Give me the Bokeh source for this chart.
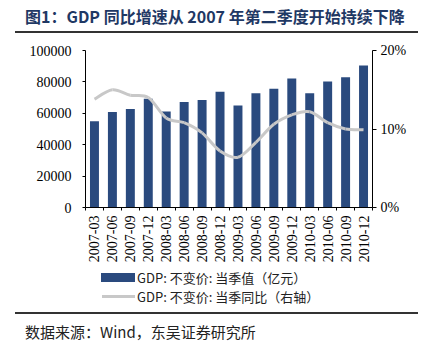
from bokeh.plotting import figure
from bokeh.models import (Range1d, LinearAxis, FixedTicker, PrintfTickFormatter, BasicTickFormatter,
                          CustomJSTickFormatter, Div)
from bokeh.layouts import column
from bokeh.embed import file_html
from bokeh.resources import INLINE
import math

title_text = "图1：GDP 同比增速从 2007 年第二季度开始持续下降"
source_text = "数据来源：Wind，东吴证券研究所"
quarters = ["2007-03", "2007-06", "2007-09", "2007-12", "2008-03", "2008-06", "2008-09", "2008-12",
            "2009-03", "2009-06", "2009-09", "2009-12", "2010-03", "2010-06", "2010-09", "2010-12"]
gdp_value = [55000, 60800, 62700, 69300, 61200, 67200, 68400, 73700,
             65000, 72700, 75600, 82200, 72700, 80300, 83000, 90500]
gdp_yoy = [13.8, 15.0, 14.3, 14.0, 11.4, 10.8, 9.5, 7.2,
           6.4, 8.3, 10.6, 11.8, 12.2, 10.8, 10.0, 9.9]
left_ticks = [0, 20000, 40000, 60000, 80000, 100000]
right_ticks = [0, 10, 20]
legend_labels = ["GDP: 不变价: 当季值（亿元）", "GDP: 不变价: 当季同比（右轴）"]

BAR = "#2a4a7e"
LINE = "#c8c8c8"
SERIF = "Liberation Serif"
CJK = "Noto Sans CJK SC"

n = len(quarters)
xs = [i + 0.5 for i in range(n)]

p = figure(width=428, height=229, x_range=Range1d(0, n), y_range=Range1d(0, 100000),
           output_backend="svg", toolbar_location=None, x_axis_location=None, y_axis_location=None,
           min_border_left=85, min_border_right=56, min_border_top=14, min_border_bottom=58,
           margin=0)
p.outline_line_color = None
p.xgrid.visible = False
p.ygrid.visible = False
p.extra_y_ranges = {"pct": Range1d(0, 20)}

bars = p.vbar(x=xs, top=gdp_value, width=0.5, fill_color=BAR, line_color=None)

# smooth line through yoy values (cubic bezier segments passing through each data point)
x0s, y0s, x1s, y1s, cx0s, cy0s, cx1s, cy1s = [], [], [], [], [], [], [], []
for i in range(n - 1):
    xa, ya = (xs[i - 1], gdp_yoy[i - 1]) if i > 0 else (xs[i], gdp_yoy[i])
    xb, yb = xs[i], gdp_yoy[i]
    xc, yc = xs[i + 1], gdp_yoy[i + 1]
    xd, yd = (xs[i + 2], gdp_yoy[i + 2]) if i + 2 < n else (xc, yc)
    x0s.append(xb); y0s.append(yb); x1s.append(xc); y1s.append(yc)
    cx0s.append(xb + (xc - xa) / 6); cy0s.append(yb + (yc - ya) / 6)
    cx1s.append(xc - (xd - xb) / 6); cy1s.append(yc - (yd - yb) / 6)
curve = p.bezier(x0=x0s, y0=y0s, x1=x1s, y1=y1s, cx0=cx0s, cy0=cy0s, cx1=cx1s, cy1=cy1s,
                 line_color=LINE, line_width=3, y_range_name="pct")

# axes
xaxis = LinearAxis(ticker=FixedTicker(ticks=xs, minor_ticks=list(range(n + 1))),
                   formatter=CustomJSTickFormatter(args=dict(labels=quarters),
                                                   code="return labels[Math.floor(tick)]"))
xaxis.major_label_orientation = math.pi / 2
xaxis.major_tick_out = 0
xaxis.major_tick_in = 0
xaxis.minor_tick_out = 3
xaxis.minor_tick_in = 0
xaxis.major_label_standoff = 5
p.add_layout(xaxis, "below")

yaxis = LinearAxis(ticker=FixedTicker(ticks=left_ticks, minor_ticks=[]),
                   formatter=BasicTickFormatter(use_scientific=False))
yaxis.major_tick_out = 3
yaxis.major_tick_in = 0
yaxis.major_label_standoff = 11
p.add_layout(yaxis, "left")

raxis = LinearAxis(y_range_name="pct", ticker=FixedTicker(ticks=right_ticks, minor_ticks=[]),
                   formatter=PrintfTickFormatter(format="%d%%"))
raxis.major_tick_out = 4
raxis.major_tick_in = 0
raxis.major_label_standoff = 4
p.add_layout(raxis, "right")

for ax in (xaxis, yaxis, raxis):
    ax.axis_line_color = "#000000"
    ax.major_tick_line_color = "#000000"
    ax.minor_tick_line_color = "#000000"
    ax.major_label_text_font = SERIF
    ax.major_label_text_font_size = "14px"
    ax.major_label_text_color = "#000000"

title_div = Div(width=428, height=36, margin=0, text=(
    '<div style="margin-left:15px;width:403px;height:33px;border-bottom:2px solid #333;">'
    '<div style="padding-left:10px;padding-top:7px;line-height:18px;white-space:nowrap;'
    'font-family:\'Noto Sans CJK SC\';font-weight:bold;font-size:16px;color:#1f3864;">'
    + title_text + '</div></div>'))

row_style = 'height:19px;display:flex;align-items:center;padding-left:101px;white-space:nowrap;'
text_style = 'font-family:\'Noto Sans CJK SC\';font-size:13px;color:#222222;line-height:19px;'
legend_div = Div(width=428, height=47, margin=0, text=(
    '<div style="padding-top:3px;">'
    '<div style="' + row_style + '">'
    '<span style="display:inline-block;width:34px;height:9px;background:' + BAR + ';margin-right:2px;"></span>'
    '<span style="' + text_style + '">' + legend_labels[0] + '</span></div>'
    '<div style="' + row_style + '">'
    '<span style="display:inline-block;width:33px;height:3px;background:' + LINE + ';margin-left:1px;margin-right:2px;"></span>'
    '<span style="' + text_style + '">' + legend_labels[1] + '</span></div>'
    '</div>'))

source_div = Div(width=428, height=39, margin=0, text=(
    '<div style="margin-left:15px;width:403px;border-top:2px solid #333;">'
    '<div style="padding-left:10px;padding-top:9px;line-height:18px;white-space:nowrap;'
    'font-family:\'Noto Sans CJK SC\';font-size:15px;color:#222222;">'
    + source_text + '</div></div>'))

layout = column(title_div, p, legend_div, source_div, spacing=0, margin=0)

open("out.html", "w").write(file_html(layout, INLINE))
